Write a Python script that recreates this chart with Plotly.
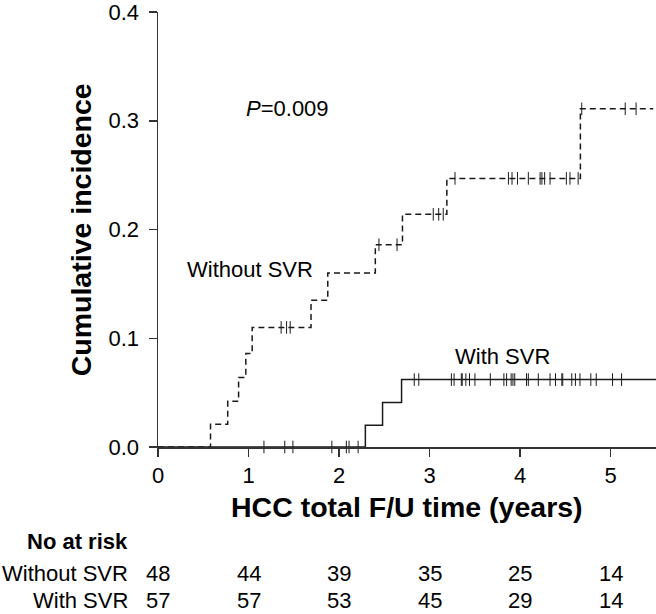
import plotly.graph_objects as go

# Step curves (time in years, cumulative incidence)
without_t = [0, 0.58, 0.77, 0.89, 0.97, 1.04, 1.69, 1.875, 2.40, 2.70, 3.19, 4.665, 5.47]
without_y = [0, 0.021, 0.042, 0.064, 0.086, 0.110, 0.135, 0.160, 0.186, 0.214, 0.247, 0.311, 0.311]

with_t = [0, 2.29, 2.48, 2.69, 5.5]
with_y = [0, 0.020, 0.041, 0.062, 0.062]

# Censor marks
without_cens_t = [1.36, 1.42, 1.46, 2.44, 2.64, 3.04, 3.10, 3.15, 3.28, 3.87, 3.91, 3.97,
                  4.09, 4.22, 4.24, 4.27, 4.33, 4.51, 4.55, 4.64, 4.68, 5.16, 5.28]
without_cens_y = [0.110, 0.110, 0.110, 0.186, 0.186, 0.214, 0.214, 0.214, 0.247, 0.247, 0.247, 0.247,
                  0.247, 0.247, 0.247, 0.247, 0.247, 0.247, 0.247, 0.247, 0.311, 0.311, 0.311]

with_cens_t = [1.17, 1.40, 1.49, 1.92, 2.08, 2.11, 2.21,
               2.83, 2.88, 3.24, 3.27, 3.35, 3.36, 3.40, 3.44, 3.50, 3.67, 3.82, 3.85, 3.90,
               3.92, 3.94, 4.07, 4.09, 4.20, 4.33, 4.39, 4.46, 4.47, 4.57, 4.61, 4.66, 4.78,
               4.84, 5.02, 5.12]
with_cens_y = [0, 0, 0, 0, 0, 0, 0] + [0.062] * 29

# Number at risk table
risk_times = [0, 1, 2, 3, 4, 5]
risk_without = [48, 44, 39, 35, 25, 14]
risk_with = [57, 57, 53, 45, 29, 14]
group_labels = ["Without SVR", "With SVR"]

x_ticks = [0, 1, 2, 3, 4, 5]
y_ticks = [0.0, 0.1, 0.2, 0.3, 0.4]
y_tick_labels = ["0.0", "0.1", "0.2", "0.3", "0.4"]

FONT = "Liberation Sans, Arial, sans-serif"
INK = "#1a1a1a"

fig = go.Figure()

fig.add_trace(go.Scatter(x=without_t, y=without_y, mode="lines", line_shape="hv",
                         line=dict(color=INK, width=1.5, dash="6px,4px"), showlegend=False,
                         cliponaxis=False, hoverinfo="skip"))
fig.add_trace(go.Scatter(x=with_t, y=with_y, mode="lines", line_shape="hv",
                         line=dict(color=INK, width=1.5), showlegend=False, cliponaxis=False,
                         hoverinfo="skip"))
fig.add_trace(go.Scatter(x=without_cens_t, y=without_cens_y, mode="markers",
                         marker=dict(symbol="line-ns", size=9, line=dict(color=INK, width=1)),
                         showlegend=False, cliponaxis=False, hoverinfo="skip"))
fig.add_trace(go.Scatter(x=with_cens_t, y=with_cens_y, mode="markers",
                         marker=dict(symbol="line-ns", size=9, line=dict(color=INK, width=1)),
                         showlegend=False, cliponaxis=False, hoverinfo="skip"))

annotations = []
annotations.append(dict(x=1.43, y=0.311, xref="x", yref="y", text="<i>P</i>=0.009",
                        showarrow=False, font=dict(size=22, family=FONT, color="black")))
annotations.append(dict(x=1.02, y=0.1635, xref="x", yref="y", text="Without SVR",
                        showarrow=False, font=dict(size=22, family=FONT, color="black")))
annotations.append(dict(x=3.80, y=0.083, xref="x", yref="y", text="With SVR",
                        showarrow=False, font=dict(size=22, family=FONT, color="black")))

# axis titles
annotations.append(dict(x=-0.155, y=0.5, xref="paper", yref="paper", text="<b>Cumulative incidence</b>",
                        textangle=-90, showarrow=False, xanchor="center", yanchor="middle",
                        font=dict(size=28.5, family=FONT, color="black")))
annotations.append(dict(x=0.5, y=-0.139, xref="paper", yref="paper", text="<b>HCC total F/U time (years)</b>",
                        showarrow=False, xanchor="center", yanchor="middle",
                        font=dict(size=28.5, family=FONT, color="black")))

# risk table
annotations.append(dict(x=-0.0555, y=-0.217, xref="paper", yref="paper", text="<b>No at risk</b>",
                        showarrow=False, xanchor="right", yanchor="middle",
                        font=dict(size=22, family=FONT, color="black")))
row_y = [-0.2900, -0.3530]
for lab, ry, vals in zip(group_labels, row_y, [risk_without, risk_with]):
    annotations.append(dict(x=-0.0555, y=ry, xref="paper", yref="paper", text=lab,
                            showarrow=False, xanchor="right", yanchor="middle",
                            font=dict(size=22, family=FONT, color="black")))
    for t, v in zip(risk_times, vals):
        annotations.append(dict(x=t, y=ry, xref="x", yref="paper", text=str(v),
                                showarrow=False, xanchor="center", yanchor="middle",
                                font=dict(size=22, family=FONT, color="black")))

fig.update_layout(
    width=656, height=614,
    margin=dict(l=158, r=0, t=9, b=167),
    paper_bgcolor="white", plot_bgcolor="white",
    font=dict(family=FONT, size=22, color="black"),
    annotations=annotations,
    hovermode=False,
    xaxis=dict(range=[0, 5.5], tickvals=x_ticks, ticks="outside", ticklen=8, tickwidth=1.5,
               tickcolor="#333", showline=True, linecolor="#333", linewidth=1.5,
               showgrid=False, zeroline=False, ticklabeloverflow="allow",
               tickfont=dict(size=22, family=FONT, color="black")),
    yaxis=dict(range=[0, 0.4], tickvals=y_ticks, ticktext=y_tick_labels, ticks="outside", ticklen=8,
               tickwidth=1.5, tickcolor="#333", showline=True, linecolor="#333", linewidth=1.5,
               showgrid=False, zeroline=False, ticklabelstandoff=5, ticklabeloverflow="allow",
               tickfont=dict(size=22, family=FONT, color="black")),
)

fig.write_html("out.html", config={"displayModeBar": False, "staticPlot": True},
               post_script="document.body.style.margin='0';document.body.style.overflow='hidden';")
